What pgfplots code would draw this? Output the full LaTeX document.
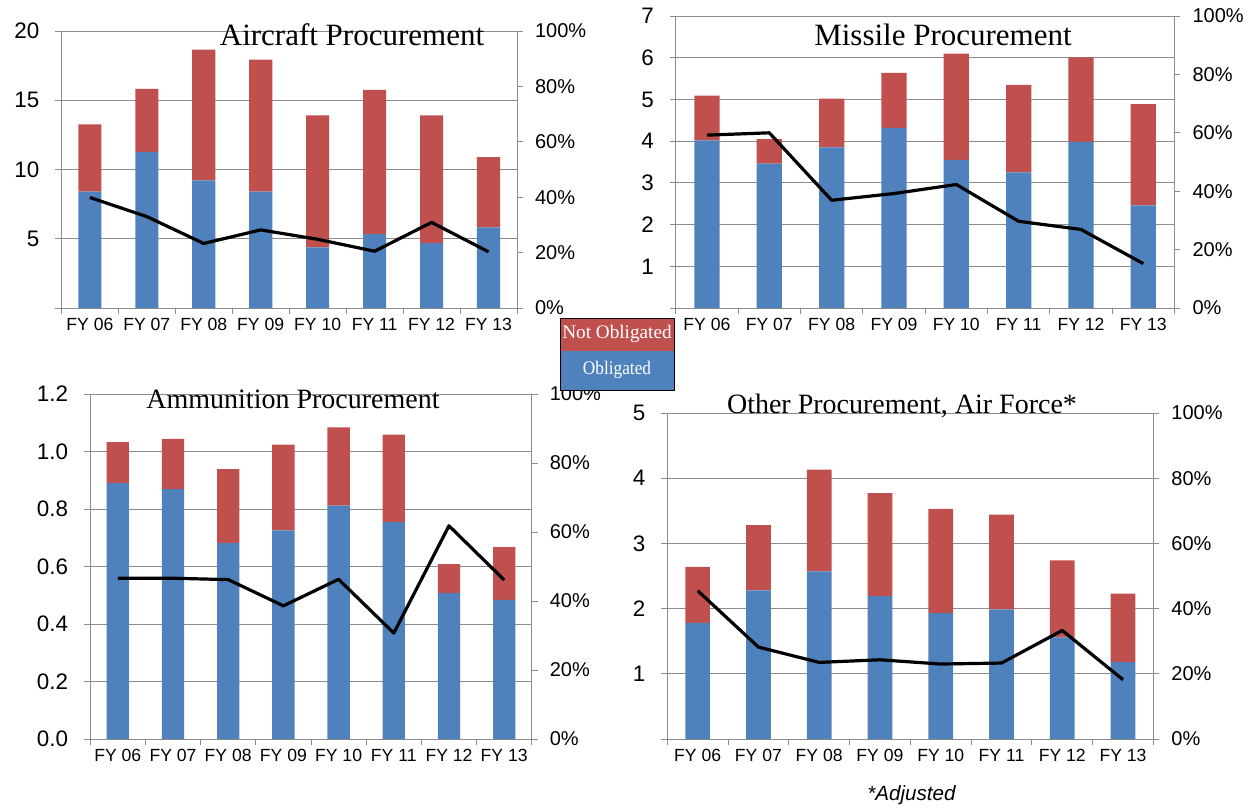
\documentclass[border=0pt]{standalone}
\usepackage{fontspec}
\setmainfont{Liberation Serif}
\newfontfamily\ticksf{Liberation Sans}
\usepackage{pgfplots}
\pgfplotsset{compat=1.18}
\definecolor{obl}{HTML}{4F81BD}
\definecolor{notobl}{HTML}{C0504D}
\definecolor{linegray}{HTML}{8C8C8C}

\pgfplotsset{
  common/.style={
    scale only axis, anchor=south west,
    xmin=0.5, xmax=8.5, ymin=0,
    tick align=outside,
    major tick length=3pt, minor tick length=3pt,
    axis line style={draw=linegray},
    tick style={draw=linegray, thin},
    /pgf/number format/assume math mode=true,
  },
  barax/.style={common,
    ybar stacked, bar width=0.405,
    xtick={1,...,8},
    xticklabels={FY 06,FY 07,FY 08,FY 09,FY 10,FY 11,FY 12,FY 13},
    minor xtick={0.5,1.5,...,8.5},
    major x tick style={draw=none},
    xtick pos=left, ytick pos=left,
    ymajorgrids, grid style={draw=linegray, thin},
    xticklabel style={font=\ticksf\fontsize{8.8}{8.8}\selectfont, yshift=1.5pt},
    yticklabel style={font=\ticksf\fontsize{11.2}{11.2}\selectfont, xshift=-4.5pt},
  },
  lineax/.style={common,
    ymax=100, hide x axis, axis y line*=right,
    ytick={0,20,...,100},
    yticklabel={\pgfmathprintnumber{\tick}\%},
    yticklabel style={font=\ticksf\fontsize{10}{10}\selectfont, xshift=2.5pt},
  },
  bluebar/.style={fill=obl, draw=none},
  redbar/.style={fill=notobl, draw=none},
  ratio/.style={black, line width=1.6pt, line join=round, mark=none},
}

\begin{document}
\begin{tikzpicture}

% ---------- Aircraft Procurement ----------
\begin{axis}[barax, at={(30.7pt,-154pt)}, width=227.8pt, height=138.5pt,
    ymax=20, ytick={0,5,...,20}, yticklabels={,5,10,15,20}]
  \addplot[bluebar] coordinates {(1,8.40) (2,11.28) (3,9.22) (4,8.40) (5,4.37) (6,5.33) (7,4.68) (8,5.83)};
  \addplot[redbar] coordinates {(1,4.85) (2,4.54) (3,9.44) (4,9.53) (5,9.53) (6,10.42) (7,9.22) (8,5.07)};
\end{axis}
\begin{axis}[lineax, at={(30.7pt,-154pt)}, width=227.8pt, height=138.5pt]
  \addplot[ratio] coordinates {(1,39.9) (2,33.0) (3,23.3) (4,28.2) (5,24.8) (6,20.5) (7,30.9) (8,20.3)};
\end{axis}

% ---------- Missile Procurement ----------
\begin{axis}[barax, at={(337.9pt,-154pt)}, width=249.35pt, height=146pt,
    ymax=7, ytick={0,1,...,7}, yticklabels={,1,2,3,4,5,6,7}]
  \addplot[bluebar] coordinates {(1,4.02) (2,3.46) (3,3.85) (4,4.32) (5,3.55) (6,3.25) (7,3.98) (8,2.46)};
  \addplot[redbar] coordinates {(1,1.07) (2,0.59) (3,1.17) (4,1.32) (5,2.55) (6,2.10) (7,2.03) (8,2.43)};
\end{axis}
\begin{axis}[lineax, at={(337.9pt,-154pt)}, width=249.35pt, height=146pt]
  \addplot[ratio] coordinates {(1,59.2) (2,60.0) (3,36.9) (4,39.2) (5,42.3) (6,29.7) (7,26.9) (8,15.2)};
\end{axis}

% ---------- Ammunition Procurement ----------
\begin{axis}[barax, at={(45.1pt,-369.5pt)}, width=220.8pt, height=172.5pt,
    ymax=1.2, ytick={0,0.2,...,1.2},
    yticklabel style={/pgf/number format/.cd, fixed, fixed zerofill, precision=1}]
  \addplot[bluebar] coordinates {(1,0.890) (2,0.869) (3,0.681) (4,0.726) (5,0.812) (6,0.754) (7,0.507) (8,0.484)};
  \addplot[redbar] coordinates {(1,0.143) (2,0.175) (3,0.258) (4,0.298) (5,0.272) (6,0.305) (7,0.101) (8,0.183)};
\end{axis}
\begin{axis}[lineax, at={(45.1pt,-369.5pt)}, width=220.8pt, height=172.5pt]
  \addplot[ratio] coordinates {(1,46.6) (2,46.6) (3,46.2) (4,38.6) (5,46.3) (6,30.7) (7,61.8) (8,46.1)};
\end{axis}

% ---------- Other Procurement, Air Force ----------
\begin{axis}[barax, at={(333.65pt,-369.5pt)}, width=243.05pt, height=163pt,
    ymax=5, ytick={0,1,...,5}, yticklabels={,1,2,3,4,5}]
  \addplot[bluebar] coordinates {(1,1.78) (2,2.28) (3,2.57) (4,2.19) (5,1.93) (6,1.99) (7,1.56) (8,1.18)};
  \addplot[redbar] coordinates {(1,0.86) (2,1.00) (3,1.56) (4,1.58) (5,1.60) (6,1.45) (7,1.18) (8,1.05)};
\end{axis}
\begin{axis}[lineax, at={(333.65pt,-369.5pt)}, width=243.05pt, height=163pt]
  \addplot[ratio] coordinates {(1,45.5) (2,28.2) (3,23.5) (4,24.3) (5,23.0) (6,23.3) (7,33.3) (8,18.2)};
\end{axis}

% titles
\node[font=\fontsize{15.5}{15.5}\selectfont] at (176pt,-17.5pt) {Aircraft Procurement};
\node[font=\fontsize{15.5}{15.5}\selectfont] at (471.5pt,-17.5pt) {Missile Procurement};
\node[font=\fontsize{14}{14}\selectfont] at (146.5pt,-199.5pt) {Ammunition Procurement};
\node[font=\fontsize{14}{14}\selectfont] at (451pt,-203pt) {Other Procurement, Air Force*};

% shared legend
\fill[notobl] (280pt,-159pt) rectangle (337pt,-175.3pt);
\fill[obl] (280pt,-175.3pt) rectangle (337pt,-195pt);
\draw[black, thin] (280pt,-159pt) rectangle (337pt,-195pt);
\node[white, font=\fontsize{9.6}{9.6}\selectfont] at (308.5pt,-167pt) {Not Obligated};
\node[white] at (308.5pt,-185pt) {\scalebox{0.9}[1]{\fontsize{9.6}{9.6}\selectfont Obligated}};

\node[font=\ticksf\itshape\fontsize{10.3}{10.3}\selectfont] at (455.75pt,-397.5pt) {*Adjusted};

\pgfresetboundingbox
\path[use as bounding box] (0pt,0pt) rectangle (630pt,-405pt);
\end{tikzpicture}
\end{document}
